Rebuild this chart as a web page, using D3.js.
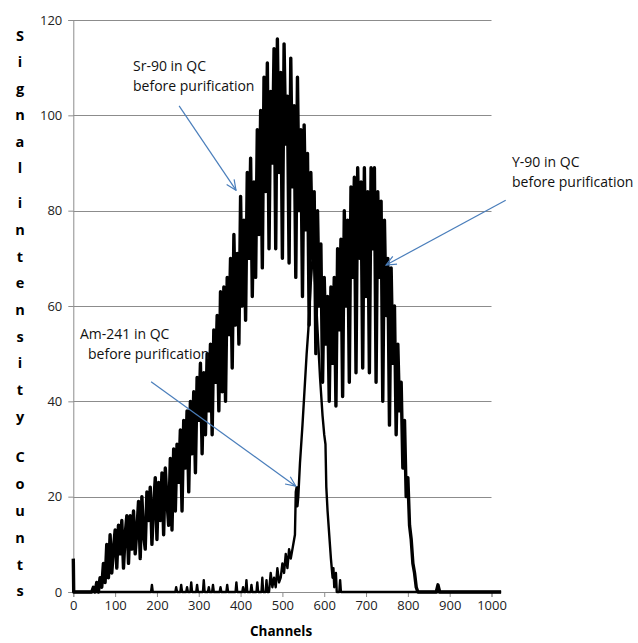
<!DOCTYPE html>
<html>
<head>
<meta charset="utf-8">
<script src="https://cdn.jsdelivr.net/npm/d3@7"></script>
<style>
  body{margin:0;background:#fff;}
  text{font-family:"Open Sans",sans-serif;}
</style>
</head>
<body>
<div id="chart"></div>
<script>

// axis ticks
const xTicks = [0,100,200,300,400,500,600,700,800,900,1000];
const yTicks = [0,20,40,60,80,100,120];

// Sr-90 / Y-90 spectrum, read every 4 channels starting at channel 44
const srStart = 44, srStep = 4;
const srCounts = [
    0, 1, 0, 2, 0, 3, 1, 6, 2, 10,
    3, 12, 4, 9, 13, 5, 14, 8, 15, 5,
    12, 16, 6, 16, 9, 17, 8, 13, 19, 7,
    20, 12, 9, 21, 15, 22, 10, 18, 24, 11,
    23, 15, 25, 12, 26, 19, 14, 28, 13, 30,
    17, 31, 23, 34, 17, 36, 26, 38, 21, 40,
    29, 42, 25, 45, 36, 48, 29, 46, 33, 50,
    38, 52, 33, 55, 44, 58, 38, 63, 42, 64,
    40, 66, 54, 70, 47, 75, 56, 71, 52, 83,
    60, 78, 57, 88, 70, 91, 62, 86, 66, 97,
    75, 101, 68, 108, 84, 111, 72, 105, 90, 114,
    72, 116, 88, 109, 70, 115, 94, 104, 69, 112,
    85, 102, 66, 108, 80, 97, 62, 98, 76, 92,
    56, 88, 70, 84, 50, 80, 60, 73, 44, 66,
    52, 62, 40, 64, 48, 66, 39, 72, 55, 74,
    41, 80, 60, 78, 44, 85, 66, 87, 46, 89,
    70, 86, 47, 89, 62, 84, 46, 89, 72, 89,
    44, 84, 66, 82, 40, 78, 58, 70, 35, 68,
    48, 60, 33, 52, 38, 44, 26, 36, 20, 24,
    14, 11, 6, 4, 1, 0
];
// points of the same spectrum outside the sampled range
const srHeadChannels = [0, 1, 40];
const srHeadCounts   = [7, 0, 0];
const srTailChannels = [868, 872, 876, 1023];
const srTailCounts   = [0, 1.5, 0, 0];

// Am-241 spectrum
const amChannels = [0,186,188,190, 244,246,248, 256,258,260, 270,272,274, 280,282,284,
    294,296,298, 310,312,314, 322,324,326, 332,334,336, 350,352,354, 366,368,370,
    388,390,392, 404,406,408, 412,414,416, 424,426,428, 438,440,442, 450,452,454,
    460,462,464, 468,472,476,480,484,488,492,496,500,504,508,512,516,520,524,528,
    530,532,534,536,538,542,548,552,558,562,568,572,576,580,584,590,596,600,603,
    605,608,612,616,620,622,624,628,630, 636,638,640, 1023];
const amCounts = [0,0,1.5,0, 0,1,0, 0,1.5,0, 0,1,0, 0,2,0,
    0,1.5,0, 0,2.5,0, 0,1,0, 0,1.5,0, 0,1,0, 0,1.5,0,
    0,2,0, 0,1,0, 0,2.5,0, 0,1.5,0, 0,2,0, 0,3,0,
    0,2.5,0, 0,4,1,3,1,5,2,3,6,4,8,5,9,7,9,11,
    12,21,22,18,20,27,35,41,50,55,65,70,68,62,55,45,37,33,31,
    22,17,12,7,3,5,1,4,0, 0,2.5,0, 0];

const yLabelWords = ["Signal", "intensity", "Counts"];

const annotations = [
    {lines:["Sr-90 in QC","before purification"], x:[133,133], y:71, from:[253,102], to:[389,84.3]},
    {lines:["Y-90 in QC","before purification"], x:[512,512], y:167, from:[1034,82.2], to:[748,68.6]},
    {lines:["Am-241 in QC","before purification"], x:[80,88], y:339, from:[186,44.1], to:[532,22.2]}
];

const width = 638, height = 643;
const svg = d3.select("#chart").append("svg")
    .attr("width", width)
    .attr("height", height);

const xScale = d3.scaleLinear().domain([0,1000]).range([73.3,491.5]);
const yScale = d3.scaleLinear().domain([0,120]).range([592,20]);

//#region grid and axes
svg.selectAll("line.grid")
    .data(yTicks.filter(d => d > 0))
    .join("line")
    .attr("class","grid")
    .attr("x1", xScale(0))
    .attr("x2", xScale(1000))
    .attr("y1", d => Math.round(yScale(d)) + 0.5)
    .attr("y2", d => Math.round(yScale(d)) + 0.5)
    .attr("stroke","#8c8c8c")
    .attr("stroke-width",1);

const yAxis = d3.axisLeft(yScale).tickValues(yTicks).tickSize(5).tickPadding(6);
const yG = svg.append("g").attr("transform","translate(" + xScale(0) + ",0)").call(yAxis);
yG.selectAll("path,line").attr("stroke","#8c8c8c");
yG.selectAll("text").attr("font-size",13).attr("fill","#222").attr("font-family","Open Sans");

const xAxis = d3.axisBottom(xScale).tickValues(xTicks).tickFormat(d3.format("d")).tickSize(5).tickPadding(4);
const xG = svg.append("g").attr("transform","translate(0," + yScale(0) + ")").call(xAxis);
xG.selectAll("path,line").attr("stroke","#8c8c8c");
xG.selectAll("text").attr("font-size",13).attr("fill","#222").attr("font-family","Open Sans");
//#endregion

//#region spectra
let srData = srHeadChannels.map((c,i) => ({c:c, v:srHeadCounts[i]}));
srCounts.forEach((v,i) => srData.push({c: srStart + i*srStep, v: v}));
srTailChannels.forEach((c,i) => srData.push({c:c, v:srTailCounts[i]}));

const amData = amChannels.map((c,i) => ({c:c, v:amCounts[i]}));

const lineFunc = d3.line()
    .x(d => xScale(d.c))
    .y(d => yScale(d.v));

svg.append("path")
    .attr("d", lineFunc(amData))
    .attr("fill","none")
    .attr("stroke","#000")
    .attr("stroke-width",2.4)
    .attr("stroke-linejoin","round");

svg.append("path")
    .attr("d", lineFunc(srData))
    .attr("fill","none")
    .attr("stroke","#000")
    .attr("stroke-width",3.4)
    .attr("stroke-linejoin","round");
//#endregion

//#region annotations
svg.append("defs").append("marker")
    .attr("id","arrow")
    .attr("viewBox","0 0 12 12")
    .attr("refX",11).attr("refY",6)
    .attr("markerWidth",12).attr("markerHeight",12)
    .attr("markerUnits","userSpaceOnUse")
    .attr("orient","auto")
    .append("path")
    .attr("d","M1,1.5 L11,6 L1,10.5")
    .attr("fill","none")
    .attr("stroke","#4a7ebb")
    .attr("stroke-width",1.2);

annotations.forEach(a => {
    a.lines.forEach((t,i) => {
        svg.append("text")
            .attr("x", a.x[i])
            .attr("y", a.y + i*19.5)
            .attr("font-size",14)
            .attr("fill","#111")
            .text(t);
    });
    svg.append("line")
        .attr("x1", xScale(a.from[0])).attr("y1", yScale(a.from[1]))
        .attr("x2", xScale(a.to[0])).attr("y2", yScale(a.to[1]))
        .attr("stroke","#4a7ebb")
        .attr("stroke-width",1.2)
        .attr("marker-end","url(#arrow)");
});
//#endregion

//#region axis titles
// y title is written one letter under the other
const starts = [35.7, 203, 456.7];
const steps = [26.5, 26.7, 26.9];
yLabelWords.forEach((w,k) => {
    svg.selectAll("text.ylab" + k)
        .data(w.split(""))
        .join("text")
        .attr("class","ylab" + k)
        .attr("x",20)
        .attr("y",(d,i) => starts[k] + i*steps[k])
        .attr("dy","0.36em")
        .attr("text-anchor","middle")
        .attr("font-size",14.5)
        .attr("font-weight","bold")
        .text(d => d);
});

svg.append("text")
    .attr("x",281)
    .attr("y",636)
    .attr("text-anchor","middle")
    .attr("font-size",13.5)
    .attr("font-weight","bold")
    .text("Channels");
//#endregion
</script>
</body>
</html>
